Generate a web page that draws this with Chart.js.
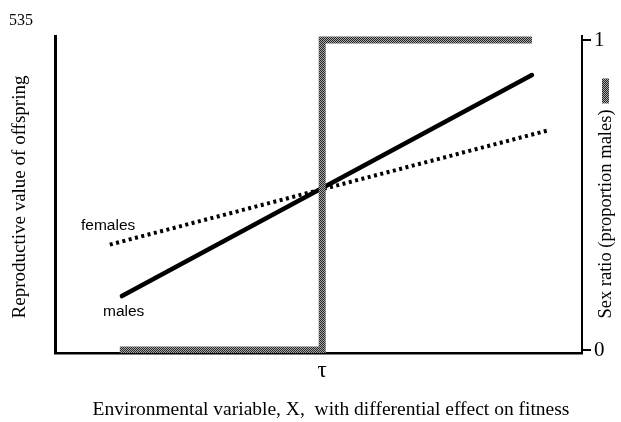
<!DOCTYPE html>
<html>
<head>
<meta charset="utf-8">
<script src="https://cdn.jsdelivr.net/npm/chart.js@4.4.1/dist/chart.umd.min.js"></script>
<style>
  html, body { margin: 0; padding: 0; background: #fff; }
  #wrap { width: 621px; height: 422px; }
</style>
</head>
<body>
<div id="wrap"><canvas id="chart" width="621" height="422"></canvas></div>
<script>
// Valeurs (x en unités arbitraires 0..10, y en proportion 0..1)
const tau = 5.07;
const sexRatioX = [1.23, tau, tau, 9.05];
const sexRatioY = [0, 0, 1, 1];
const malesX = [1.27, 9.05];
const malesY = [0.174, 0.887];
const femalesX = [1.04, 9.39];
const femalesY = [0.34, 0.71];
const rightTicks = [0, 1];

const serif = '"Liberation Serif", "DejaVu Serif", serif';
const sans = '"Liberation Sans", Arial, sans-serif';

function points(xs, ys) {
    return xs.map((x, i) => ({ x: x, y: ys[i] }));
}

// trame grise façon impression tramée
function grayPattern() {
    const c = document.createElement('canvas');
    c.width = 2;
    c.height = 2;
    const g = c.getContext('2d');
    g.fillStyle = '#a8a8a8';
    g.fillRect(0, 0, 2, 2);
    g.fillStyle = '#262626';
    g.fillRect(0, 0, 1, 1);
    g.fillRect(1, 1, 1, 1);
    return g.createPattern(c, 'repeat');
}

const ctx = document.getElementById('chart');
const pattern = grayPattern();

const labels = {
    id: 'labels',
    afterDraw(chart) {
        const c = chart.ctx;
        c.save();
        c.fillStyle = '#000';
        c.textBaseline = 'middle';

        c.font = '16px ' + serif;
        c.textAlign = 'left';
        c.fillText('535', 9, 21);

        c.font = '15.5px ' + sans;
        c.fillText('females', 81, 226);
        c.fillText('males', 103, 312);

        c.textAlign = 'center';
        c.font = '19.5px ' + serif;
        c.fillText('Environmental variable, X,  with differential effect on fitness', 331, 410);

        // titre de gauche
        c.save();
        c.translate(20, 197);
        c.rotate(-Math.PI / 2);
        c.font = '19px ' + serif;
        c.fillText('Reproductive value of offspring', 0, 0);
        c.restore();

        // titre de droite + pastille grise
        c.save();
        c.translate(606, 214);
        c.rotate(-Math.PI / 2);
        c.font = '18.5px ' + serif;
        const t = 'Sex ratio (proportion males)';
        c.fillText(t, 0, 0);
        const w = c.measureText(t).width;
        c.fillStyle = pattern;
        c.fillRect(w / 2 + 6, -4, 25, 7);
        c.restore();

        c.restore();
    }
};

new Chart(ctx, {
    type: 'line',
    data: {
        datasets: [
            {
                label: 'sex ratio',
                data: points(sexRatioX, sexRatioY),
                yAxisID: 'y1',
                borderColor: pattern,
                borderWidth: 7,
                borderJoinStyle: 'miter',
                borderCapStyle: 'butt',
                pointRadius: 0,
                tension: 0
            },
            {
                label: 'males',
                data: points(malesX, malesY),
                yAxisID: 'y',
                borderColor: '#000',
                borderWidth: 4.5,
                borderCapStyle: 'round',
                pointRadius: 0
            },
            {
                label: 'females',
                data: points(femalesX, femalesY),
                yAxisID: 'y',
                borderColor: '#000',
                borderWidth: 4,
                borderDash: [3, 3.5],
                pointRadius: 0
            }
        ]
    },
    options: {
        responsive: false,
        animation: false,
        layout: { padding: { top: 36, left: 0, right: 0, bottom: 0 } },
        plugins: { legend: { display: false }, tooltip: { enabled: false } },
        scales: {
            x: {
                type: 'linear',
                min: 0,
                max: 10,
                afterFit(scale) { scale.height = 69; },
                afterBuildTicks(scale) { scale.ticks = [{ value: tau }]; },
                grid: { display: false, drawTicks: false },
                border: { display: true, color: '#000', width: 2.5 },
                ticks: {
                    padding: 4,
                    color: '#000',
                    font: { family: serif, size: 23 },
                    callback: () => 'τ'
                }
            },
            y: {
                position: 'left',
                min: -0.0097,
                max: 1.013,
                afterFit(scale) { scale.width = 55; },
                grid: { display: false },
                border: { display: true, color: '#000', width: 3 },
                ticks: { display: false }
            },
            y1: {
                position: 'right',
                min: -0.0097,
                max: 1.013,
                afterFit(scale) { scale.width = 39; },
                afterBuildTicks(scale) { scale.ticks = rightTicks.map(v => ({ value: v })); },
                grid: { drawOnChartArea: false, drawTicks: true, tickLength: 9, color: '#000', lineWidth: 2 },
                border: { display: true, color: '#000', width: 2 },
                ticks: {
                    padding: 3,
                    color: '#000',
                    font: { family: serif, size: 21 }
                }
            }
        }
    },
    plugins: [labels]
});
</script>
</body>
</html>
